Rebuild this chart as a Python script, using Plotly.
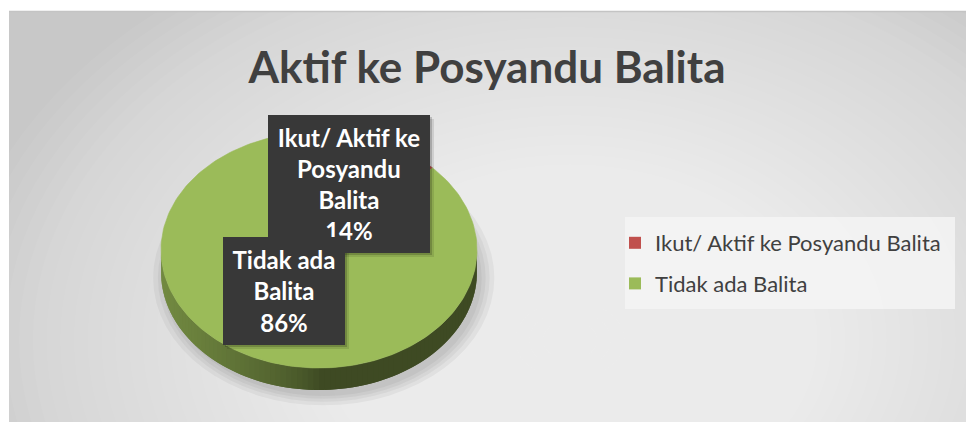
import numpy as np
import plotly.graph_objects as go

# ---------------- data ----------------
categories = ["Ikut/ Aktif ke Posyandu Balita", "Tidak ada Balita"]
values = [14, 86]
label_text = ["Ikut/ Aktif ke<br>Posyandu<br>Balita", "Tidak ada<br>Balita"]
colors = ["#c0504d", "#9bbb59"]
title_text = "Aktif ke Posyandu Balita"

# ---------------- style / geometry ----------------
W, H = 966, 422
CX, CY, RX, RY = 319, 250, 158, 118      # pixel placement of pie top ellipse
DEPTH = 22 / RY                          # 3D side thickness (in ellipse units)
START = -4.5                             # first slice angle (deg, clockwise from top)
XR = (-1.2, 1.2)
YR = (-1.35, 1.0)
FONT = "Lato"
TXT = "#404040"


def px(x):
    return x / W


def py(y):
    return (H - y) / H


def shade(hexcol, f):
    h = hexcol.lstrip("#")
    r, g, b = (int(h[i:i + 2], 16) for i in (0, 2, 4))
    return "rgb(%d,%d,%d)" % (r * f, g * f, b * f)


def ellipse_pts(a0, a1, dy=0.0, n=None):
    if n is None:
        n = max(int(abs(a1 - a0) / 1.5), 2)
    t = np.radians(np.linspace(a0, a1, n))
    return np.sin(t), np.cos(t) + dy


fig = go.Figure()

total = sum(values)
bounds = []
acc = START
for v in values:
    span = v / total * 360.0
    bounds.append((acc, acc + span))
    acc += span

# side of the 3D pie (front half only: angles 90..270)
STEP = 2.0
for (a0, a1), col in zip(bounds, colors):
    for k in range(-1, 2):
        lo = max(a0, 90 + 360 * k)
        hi = min(a1, 270 + 360 * k)
        if hi <= lo:
            continue
        edges = np.arange(lo, hi, STEP).tolist() + [hi]
        for s0, s1 in zip(edges[:-1], edges[1:]):
            mid = np.radians((s0 + s1) / 2)
            f = 0.40 + 0.34 * max(0.0, -np.sin(mid)) ** 0.7
            c = shade(col, f)
            e1 = min(s1 + STEP, hi)      # overlap the next strip to hide seams
            xt, yt = ellipse_pts(s0, e1, 0.0, 6)
            xb, yb = ellipse_pts(e1, s0, -DEPTH, 6)
            fig.add_trace(go.Scatter(
                x=np.concatenate([xt, xb]), y=np.concatenate([yt, yb]),
                mode="lines", fill="toself", fillcolor=c,
                line=dict(width=0), hoverinfo="skip", showlegend=False))

# top faces
for (a0, a1), col in zip(bounds, colors):
    xs, ys = ellipse_pts(a0, a1)
    fig.add_trace(go.Scatter(
        x=np.concatenate([[0], xs, [0]]), y=np.concatenate([[0], ys, [0]]),
        mode="lines", fill="toself", fillcolor=col,
        line=dict(color=col, width=0.6), hoverinfo="skip", showlegend=False))

# legend entries
for i, (name, col) in enumerate(zip(categories, colors)):
    fig.add_trace(go.Scatter(
        x=[None], y=[None], mode="markers", name=name, legendgroup=str(i),
        marker=dict(symbol="square", size=12, color=col)))

# ---------------- background shapes ----------------
shapes = []
shapes.append(dict(type="rect", xref="paper", yref="paper", x0=px(9), x1=px(966),
                   y0=-0.05, y1=py(11), fillcolor="#c8c8c8", line_width=0, layer="below"))
GX, GY, GRX, GRY = 570, 340, 620, 440
n_layers = 45
for i in range(n_layers):
    s = 1 - i / n_layers
    shapes.append(dict(type="circle", xref="paper", yref="paper",
                       x0=px(GX - GRX * s), x1=px(GX + GRX * s),
                       y0=py(GY + GRY * s), y1=py(GY - GRY * s),
                       fillcolor="rgba(255,255,255,0.047)", line_width=0, layer="below"))
shapes.append(dict(type="rect", xref="paper", yref="paper", x0=0, x1=1, y0=py(11), y1=1,
                   fillcolor="white", line_width=0, layer="below"))
shapes.append(dict(type="rect", xref="paper", yref="paper", x0=0, x1=px(9), y0=-0.05, y1=1,
                   fillcolor="white", line_width=0, layer="below"))
shapes.append(dict(type="line", xref="paper", yref="paper", x0=px(9), x1=1, y0=py(11.5), y1=py(11.5),
                   line=dict(color="#c4c4c4", width=1.5), layer="below"))
# legend panel
shapes.append(dict(type="rect", xref="paper", yref="paper", x0=px(625), x1=px(955),
                   y0=py(309), y1=py(217), fillcolor="rgba(244,244,244,0.85)", line_width=0,
                   layer="below"))
# soft shadow under the pie
for k, r in enumerate([1.08, 1.05, 1.025, 1.0]):
    shapes.append(dict(type="circle", xref="x", yref="y",
                       x0=0.03 - r, x1=0.03 + r,
                       y0=-DEPTH - 0.05 - r, y1=-DEPTH - 0.05 + r,
                       fillcolor="rgba(0,0,0,0.045)", line_width=0, layer="below"))

# label boxes: (center x, center y, width, height) in px
boxes = [(349, 184, 162, 138), (284, 291, 122, 108)]
for (bx, by, bw, bh) in boxes:
    for off, op in [(4, 0.10), (2, 0.18)]:
        shapes.append(dict(type="rect", xref="paper", yref="paper",
                           x0=px(bx - bw / 2 + off), x1=px(bx + bw / 2 + off),
                           y0=py(by + bh / 2 + off), y1=py(by - bh / 2 + off),
                           fillcolor="rgba(0,0,0,%.2f)" % op, line_width=0, layer="above"))

annotations = []
for (bx, by, bw, bh), lt, v in zip(boxes, label_text, values):
    pct = round(v / total * 100)
    annotations.append(dict(
        xref="paper", yref="paper", x=px(bx), y=py(by), xanchor="center", yanchor="middle",
        text="<b>%s<br>%d%%</b>" % (lt, pct), showarrow=False, align="center",
        width=bw, height=bh, bgcolor="#383838", borderpad=0, borderwidth=0,
        font=dict(family=FONT, size=24, color="white")))

fig.update_layout(
    width=W, height=H,
    margin=dict(l=0, r=0, t=0, b=0),
    paper_bgcolor="white", plot_bgcolor="rgba(0,0,0,0)",
    title=dict(text="<b>%s</b>" % title_text, x=px(487), xanchor="center",
               y=py(68), yanchor="middle", yref="paper",
               font=dict(family=FONT, size=44, color=TXT)),
    xaxis=dict(range=list(XR), domain=[px(CX + XR[0] * RX), px(CX + XR[1] * RX)],
               visible=False, fixedrange=True),
    yaxis=dict(range=list(YR), domain=[py(CY - YR[0] * RY), py(CY - YR[1] * RY)],
               visible=False, fixedrange=True),
    showlegend=True,
    legend=dict(x=px(615), y=py(222), xanchor="left", yanchor="top",
                bgcolor="rgba(0,0,0,0)", traceorder="grouped", tracegroupgap=9,
                font=dict(family=FONT, size=22, color=TXT)),
    shapes=shapes,
    annotations=annotations,
)

fig.write_html(
    "out.html",
    config={"displayModeBar": False},
    post_script="document.body.style.margin='0';document.body.style.padding='0';"
                "document.body.style.overflow='hidden';"
                "document.body.style.background='#dedede';"
                "document.documentElement.style.background='#dedede';",
)
